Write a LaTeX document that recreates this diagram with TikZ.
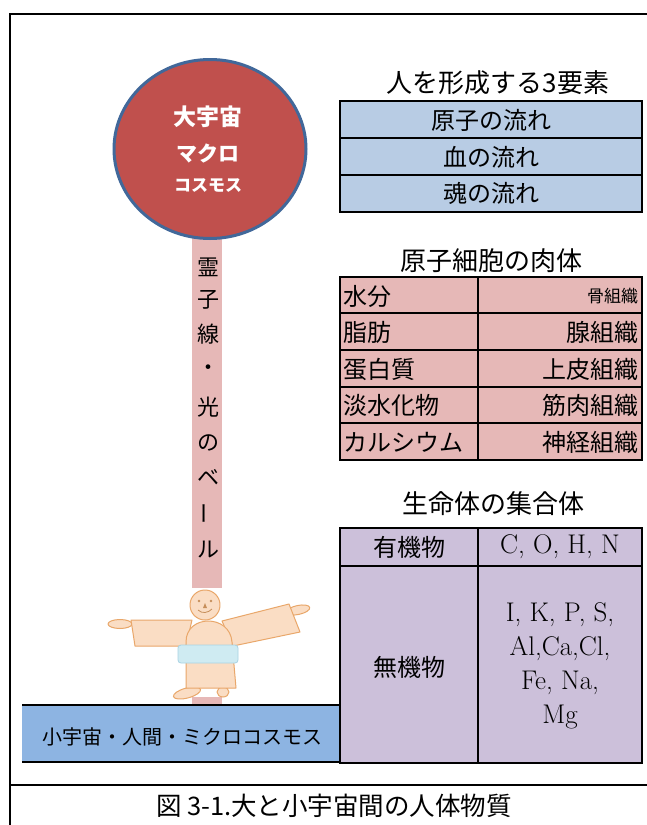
\documentclass[tikz,border=0pt]{standalone}
\usepackage{fontspec}
\usetikzlibrary{shapes.geometric}
\newfontfamily\jp{Noto Sans CJK JP}
\newcommand\fsz[1]{\fontsize{#1}{#1}\selectfont}
\definecolor{macrored}{HTML}{C0504D}
\definecolor{macroedge}{HTML}{41689A}
\definecolor{flowblue}{HTML}{B8CCE4}
\definecolor{cellpink}{HTML}{E6B8B7}
\definecolor{lifepurple}{HTML}{CCC0DA}
\definecolor{microblue}{HTML}{8DB4E2}
\definecolor{skin}{HTML}{FADDC4}
\definecolor{skinedge}{HTML}{E9A76A}
\definecolor{sash}{HTML}{CFEBF2}
\definecolor{sashedge}{HTML}{A8D3E3}
\begin{document}
\begin{tikzpicture}[x=1pt,y=-1pt,
  every node/.style={inner sep=0pt, outer sep=0pt},
  cell/.style={font=\jp\fsz{24pt}},
  small cell/.style={font=\jp\fsz{17pt}},
  heading/.style={font=\jp\fsz{26pt}},
  latin/.style={font=\fontsize{27pt}{34pt}\selectfont, align=center},
  cordchar/.style={font=\jp\fsz{22pt}},
  macrotext/.style={font=\jp\bfseries\fsz{#1}, text=white},
  frameline/.style={line width=2.2pt},
  outer/.style={line width=2.6pt},
  inner/.style={line width=1.2pt},
  limb/.style={fill=skin, draw=skinedge, line width=1pt, line join=round},
]
\useasboundingbox (0,0) rectangle (646,825);
\fill[white] (0,0) rectangle (646,825);

% page frame and caption rule
\draw[frameline] (10,830) -- (10,14) -- (650,14);
\draw[line width=1.6pt] (10,785) -- (650,785);
\node[font=\jp\fsz{25.5pt}] (caption) at (334,806) {図 3-1.大と小宇宙間の人体物質};

% silver cord between macrocosm and man
\fill[cellpink] (192,236) rectangle (222,588);
\fill[cellpink] (192,697) rectangle (222,706);
\node[cordchar] (c1) at (208,267) {霊};
\node[cordchar] (c2) at (208,300) {子};
\node[cordchar] (c3) at (208,334) {線};
\node[cordchar] (c4) at (208,370) {・};
\node[cordchar] (c5) at (208,407) {光};
\node[cordchar] (c6) at (208,443) {の};
\node[cordchar] (c7) at (208,477) {ベ};
\node[cordchar, rotate=90] (c8) at (208,513) {ー};
\node[cordchar] (c9) at (208,550) {ル};

% macrocosm
\node[ellipse, draw=macroedge, fill=macrored, line width=3pt,
      minimum width=192pt, minimum height=179pt] (macro) at (210,149) {};
\node[macrotext=23pt] (m1) at (208,117) {大宇宙};
\node[macrotext=21pt] (m2) at (208,153) {マクロ};
\node[macrotext=17pt] (m3) at (208,186) {コスモス};

% the little man
\draw[limb] (120,624) ellipse [x radius=12pt, y radius=4.5pt];
\draw[limb, rotate around={12:(298,610)}] (298,610) ellipse [x radius=12pt, y radius=4.5pt];
\draw[limb] (131,620) -- (192,620) -- (186,646) -- (135,646) -- cycle;
\draw[limb] (222,621) -- (289,604) -- (300,632) -- (233,646) -- cycle;
\draw[limb, rotate around={15:(187,693)}] (187,693) ellipse [x radius=14pt, y radius=5pt];
\draw[limb] (223,692) ellipse [x radius=6pt, y radius=5pt];
\draw[limb] (186,688) -- (186,642) .. controls (186,614) and (230,614) .. (232,642) -- (236,688) -- cycle;
\draw[fill=sash, draw=sashedge, line width=0.8pt, rounded corners=3pt] (178,645) rectangle (238,663);
\draw[limb] (205,605) circle [radius=15pt];
\fill[skinedge!85!black] (199,601) circle [radius=1.3pt] (211,601) circle [radius=1.3pt];
\fill[skinedge!85!black] (205,603) -- (203,608) -- (207,608) -- cycle;
\draw[skinedge!85!black, line width=0.8pt] (198,610) .. controls (202,614) and (208,613) .. (212,609);

% microcosm bar
\fill[microblue] (22,705) rectangle (340,762);
\draw[outer] (22,705) -- (340,705) (22,762) -- (340,762);
\node[font=\jp\fsz{20pt}] (micro) at (182,737) {小宇宙・人間・ミクロコスモス};

% three elements forming a person
\node[heading] (t1) at (498,83) {人を形成する3要素};
\fill[flowblue] (340,101) rectangle (642,212);
\draw[inner] (340,138) -- (642,138) (340,175) -- (642,175);
\draw[outer] (340,101) rectangle (642,212);
\node[cell] (f1) at (491,120) {原子の流れ};
\node[cell] (f2) at (491,157) {血の流れ};
\node[cell] (f3) at (491,193) {魂の流れ};

% atomic-cell body
\node[heading] (t2) at (491,261) {原子細胞の肉体};
\fill[cellpink] (340,277) rectangle (642,460);
\draw[inner] (340,313) -- (642,313) (340,350) -- (642,350)
             (340,387) -- (642,387) (340,423) -- (642,423)
             (478,277) -- (478,460);
\draw[outer] (340,277) rectangle (642,460);
\node[cell, anchor=west] (a1) at (343,296) {水分};
\node[cell, anchor=west] (a2) at (343,332) {脂肪};
\node[cell, anchor=west] (a3) at (343,369) {蛋白質};
\node[cell, anchor=west] (a4) at (343,405) {淡水化物};
\node[cell, anchor=west] (a5) at (343,442) {カルシウム};
\node[small cell, anchor=east] (b1) at (638,296) {骨組織};
\node[cell, anchor=east] (b2) at (638,332) {腺組織};
\node[cell, anchor=east] (b3) at (638,369) {上皮組織};
\node[cell, anchor=east] (b4) at (638,405) {筋肉組織};
\node[cell, anchor=east] (b5) at (638,442) {神経組織};

% aggregate of living matter
\node[heading] (t3) at (493,504) {生命体の集合体};
\fill[lifepurple] (340,528) rectangle (642,763);
\draw[inner] (340,566) -- (642,566) (478,528) -- (478,763);
\draw[outer] (340,528) rectangle (642,763);
\node[cell] (o1) at (409,547) {有機物};
\node[latin] (o2) at (560,547) {C, O, H, N};
\node[cell] (i1) at (409,667) {無機物};
\node[latin] (i2) at (560,666) {I, K, P, S,\\Al,Ca,Cl,\\Fe, Na,\\Mg};
\end{tikzpicture}
\end{document}
